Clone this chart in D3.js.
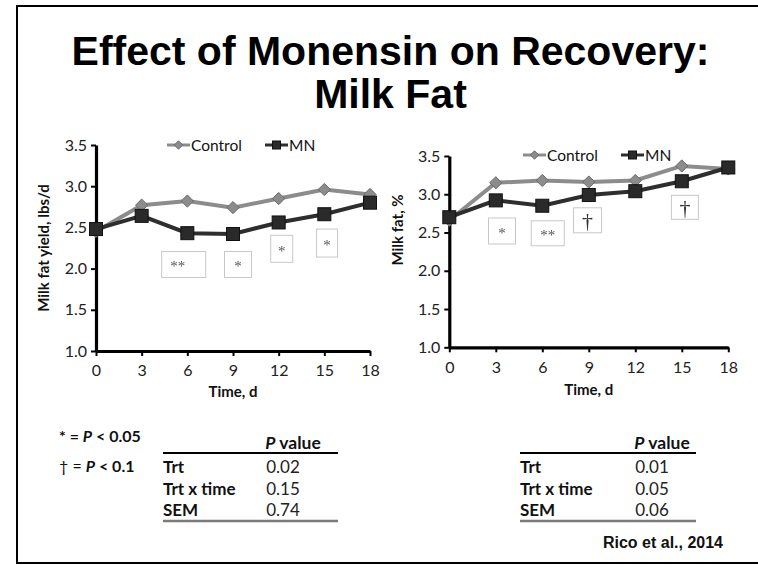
<!DOCTYPE html>
<html>
<head>
<meta charset="utf-8">
<script src="https://cdn.jsdelivr.net/npm/d3@7/dist/d3.min.js"></script>
<style>
  html, body { margin: 0; padding: 0; background: #fff; }
  svg { display: block; }
</style>
</head>
<body>
<svg id="chart" width="758" height="565"></svg>
<script>
// ---------- DATA ----------
const days = [0, 3, 6, 9, 12, 15, 18];
const yTickValues = [1.0, 1.5, 2.0, 2.5, 3.0, 3.5];
const seriesNames = ["Control", "MN"];

const yieldControl = [2.45, 2.77, 2.82, 2.74, 2.85, 2.96, 2.90];
const yieldMN      = [2.48, 2.64, 2.43, 2.42, 2.56, 2.66, 2.80];
const pctControl   = [2.66, 3.15, 3.18, 3.16, 3.18, 3.37, 3.33];
const pctMN        = [2.70, 2.92, 2.85, 2.99, 3.04, 3.17, 3.35];

const yieldSigMarks = ["**", "*", "*", "*"];
const pctSigMarks   = ["*", "**", "\u2020", "\u2020"];

const tableRows = ["Trt", "Trt x time", "SEM"];
const yieldPValues = ["0.02", "0.15", "0.74"];
const pctPValues   = ["0.01", "0.05", "0.06"];

const titleLines = ["Effect of Monensin on Recovery:", "Milk Fat"];
const legendNotes = ["* = ", "\u2020 = "];
const legendThresholds = ["< 0.05", "< 0.1"];

// ---------- DRAW ----------
const svg = d3.select("#chart");
const FONT = "Lato, 'Open Sans', sans-serif";
const CTRL = "#8c8c8c", CTRL_EDGE = "#6a6a6a", MN = "#2e2e2e", MN_EDGE = "#111";

// grayscale-AA filter for the small serif marks
const defs = svg.append("defs");
defs.append("filter").attr("id", "gray").attr("x", "-20%").attr("y", "-20%")
  .attr("width", "140%").attr("height", "140%")
  .append("feColorMatrix").attr("type", "saturate").attr("values", 0);

// frame
svg.append("path")
  .attr("d", "M 770 6 H 17 V 563 H 770")
  .attr("fill", "none").attr("stroke", "#000").attr("stroke-width", 2);

// title
svg.selectAll("text.title").data(titleLines).join("text")
  .attr("x", 390.5).attr("y", (d, i) => 65 + i * 43)
  .attr("text-anchor", "middle")
  .attr("font-family", "'Liberation Sans', Arial, sans-serif")
  .attr("font-weight", "bold").attr("font-size", 41)
  .attr("fill", "#000").text(d => d);

function drawPanel(cfg) {
  const x = d3.scaleLinear().domain([0, 18]).range(cfg.xr);
  const y = d3.scaleLinear().domain([1, 3.5]).range(cfg.yr);
  const g = svg.append("g");

  // axes
  const xa = g.append("g").attr("transform", `translate(0,${cfg.yr[0]})`)
    .call(d3.axisBottom(x).tickValues(days).tickSize(5).tickSizeOuter(0).tickPadding(9));
  const ya = g.append("g").attr("transform", `translate(${cfg.xr[0]},0)`)
    .call(d3.axisLeft(y).tickValues(yTickValues).tickFormat(d3.format(".1f")).tickSize(5).tickSizeOuter(0).tickPadding(4));
  [xa, ya].forEach(a => {
    a.select(".domain").attr("stroke", "#000").attr("stroke-width", 3.2);
    a.selectAll(".tick line").attr("stroke", "#000").attr("stroke-width", 2);
    a.selectAll(".tick text").attr("font-family", FONT).attr("font-size", 16).attr("fill", "#222");
  });

  // axis titles
  g.append("text").attr("x", (cfg.xr[0] + cfg.xr[1]) / 2).attr("y", cfg.xTitleY)
    .attr("text-anchor", "middle").attr("font-family", FONT).attr("font-weight", "bold")
    .attr("font-size", 15).attr("fill", "#111").text("Time, d");
  g.append("text").attr("transform", `translate(${cfg.yTitleX},${cfg.yTitleY}) rotate(-90)`)
    .attr("text-anchor", "middle").attr("font-family", FONT).attr("font-weight", "bold")
    .attr("font-size", 15).attr("fill", "#111").text(cfg.yTitle);

  // significance boxes
  const sg = g.append("g").attr("filter", "url(#gray)");
  cfg.sig.forEach((m, i) => {
    const b = cfg.sigLayout[i];
    const cx = x(b.day), cy = y(b.val);
    sg.append("rect").attr("x", cx - b.w / 2).attr("y", cy - b.h / 2)
      .attr("width", b.w).attr("height", b.h)
      .attr("fill", "#fff").attr("stroke", "#c8c8c8").attr("stroke-width", 1);
    const dagger = m === "\u2020";
    sg.append("text").attr("x", cx + (b.dx || 0)).attr("y", cy + (dagger ? 8 : 7))
      .attr("text-anchor", "middle")
      .attr("font-family", "'Liberation Serif', 'DejaVu Serif', serif")
      .attr("font-size", dagger ? 22 : 15).attr("fill", dagger ? "#333" : "#555")
      .text(m);
  });

  // lines
  const line = d3.line().x((d, i) => x(days[i])).y(d => y(d));
  g.append("path").datum(cfg.ctrl).attr("d", line)
    .attr("fill", "none").attr("stroke", CTRL).attr("stroke-width", 4);
  g.append("path").datum(cfg.mn).attr("d", line)
    .attr("fill", "none").attr("stroke", MN).attr("stroke-width", 4);

  // markers
  const dia = d3.symbol().type(d3.symbolDiamond2).size(95);
  g.selectAll("path.cm").data(cfg.ctrl).join("path")
    .attr("transform", (d, i) => `translate(${x(days[i])},${y(d)})`)
    .attr("d", dia).attr("fill", CTRL).attr("stroke", CTRL_EDGE).attr("stroke-width", 1);
  g.selectAll("rect.mm").data(cfg.mn).join("rect")
    .attr("x", (d, i) => x(days[i]) - 6.5).attr("y", d => y(d) - 6.5)
    .attr("width", 13).attr("height", 13)
    .attr("fill", "#2a2a2a").attr("stroke", MN_EDGE).attr("stroke-width", 1);

  // legend
  const L = cfg.legend;
  const lc = g.append("g");
  lc.append("line").attr("x1", L.x1).attr("x2", L.x1 + 23).attr("y1", L.y).attr("y2", L.y)
    .attr("stroke", CTRL).attr("stroke-width", 3);
  lc.append("path").attr("transform", `translate(${L.x1 + 11.5},${L.y})`)
    .attr("d", d3.symbol().type(d3.symbolDiamond2).size(45)).attr("fill", CTRL).attr("stroke", CTRL_EDGE);
  lc.append("text").attr("x", L.x1 + 24).attr("y", L.y + 5.5).attr("font-family", FONT)
    .attr("font-size", 15.5).attr("fill", "#111").text(seriesNames[0]);
  lc.append("line").attr("x1", L.x2).attr("x2", L.x2 + 23).attr("y1", L.y).attr("y2", L.y)
    .attr("stroke", MN).attr("stroke-width", 3);
  lc.append("rect").attr("x", L.x2 + 7.5).attr("y", L.y - 4).attr("width", 8).attr("height", 8)
    .attr("fill", "#2a2a2a").attr("stroke", MN_EDGE);
  lc.append("text").attr("x", L.x2 + 24).attr("y", L.y + 5.5).attr("font-family", FONT)
    .attr("font-size", 15.5).attr("fill", "#111").text(seriesNames[1]);

  // table
  const T = cfg.table;
  const tg = g.append("g");
  const hdr = tg.append("text").attr("x", T.valX + 10).attr("y", 449).attr("text-anchor", "middle")
    .attr("font-family", FONT).attr("font-weight", "bold").attr("font-size", 17.5).attr("fill", "#111");
  hdr.append("tspan").attr("font-style", "italic").text("P");
  hdr.append("tspan").text(" value");
  tg.append("line").attr("x1", T.x0).attr("x2", T.x1).attr("y1", 453).attr("y2", 453)
    .attr("stroke", "#000").attr("stroke-width", 2);
  tableRows.forEach((r, i) => {
    tg.append("text").attr("x", T.x0).attr("y", 473 + i * 21.5)
      .attr("font-family", FONT).attr("font-weight", "bold").attr("font-size", 17).attr("fill", "#111").text(r);
    tg.append("text").attr("x", T.valX).attr("y", 473 + i * 21.5).attr("text-anchor", "middle")
      .attr("font-family", FONT).attr("font-size", 17).attr("fill", "#222").text(cfg.pvals[i]);
  });
  tg.append("line").attr("x1", T.x0).attr("x2", T.x1).attr("y1", 521).attr("y2", 521)
    .attr("stroke", "#7a7a7a").attr("stroke-width", 2.5);
}

drawPanel({
  xr: [96, 370], yr: [351, 145],
  ctrl: yieldControl, mn: yieldMN,
  yTitle: "Milk fat yield, lbs/d", yTitleX: 49, yTitleY: 248, xTitleY: 397,
  sig: yieldSigMarks,
  sigLayout: [
    {day: 5.76, val: 2.05, w: 44, h: 26, dx: -6},
    {day: 9.33, val: 2.05, w: 27, h: 26},
    {day: 12.2, val: 2.24, w: 22, h: 27},
    {day: 15.18, val: 2.31, w: 21, h: 28}
  ],
  legend: {x1: 167, x2: 265, y: 145},
  table: {x0: 163, x1: 338, valX: 283},
  pvals: yieldPValues
});

drawPanel({
  xr: [449.3, 728.3], yr: [347.3, 156],
  ctrl: pctControl, mn: pctMN,
  yTitle: "Milk fat, %", yTitleX: 403, yTitleY: 230, xTitleY: 395,
  sig: pctSigMarks,
  sigLayout: [
    {day: 3.4, val: 2.52, w: 27, h: 26},
    {day: 6.35, val: 2.49, w: 33, h: 25},
    {day: 8.92, val: 2.66, w: 28, h: 25},
    {day: 15.2, val: 2.83, w: 27, h: 24}
  ],
  legend: {x1: 523, x2: 621, y: 155},
  table: {x0: 520, x1: 696, valX: 652},
  pvals: pctPValues
});

// significance key
const key = svg.append("g");
legendNotes.forEach((n, i) => {
  const t = key.append("text").attr("x", 59).attr("y", 442 + i * 30)
    .attr("font-family", FONT).attr("font-weight", "bold").attr("font-size", 16).attr("fill", "#111");
  t.append("tspan").attr("font-weight", i === 1 ? "normal" : "bold").text(n);
  t.append("tspan").attr("font-style", "italic").text("P");
  t.append("tspan").text(" " + legendThresholds[i]);
});

// citation
svg.append("text").attr("x", 723).attr("y", 548).attr("text-anchor", "end")
  .attr("font-family", "'Liberation Sans', Arial, sans-serif").attr("font-weight", "bold")
  .attr("font-size", 16).attr("fill", "#111").text("Rico et al., 2014");
</script>
</body>
</html>
